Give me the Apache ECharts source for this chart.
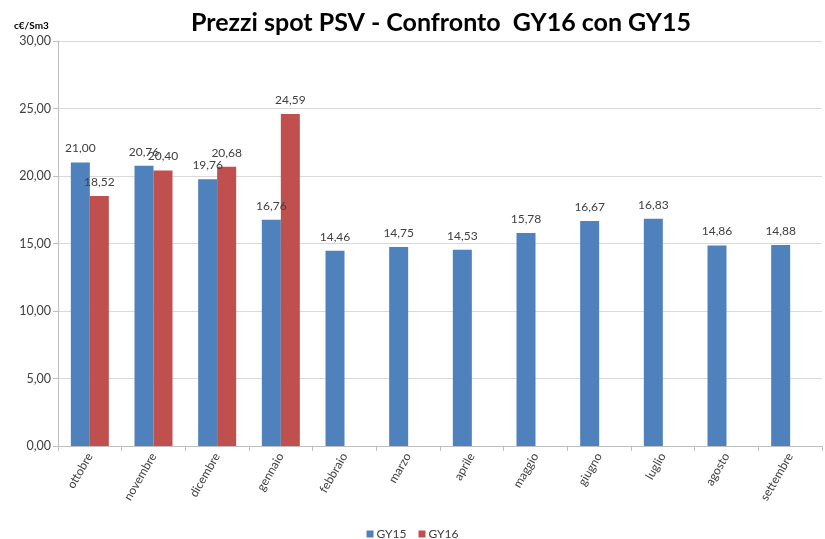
<!DOCTYPE html>
<html><head><meta charset="utf-8">
<script src="https://cdn.jsdelivr.net/npm/echarts@6/dist/echarts.min.js"></script>
<style>html,body{margin:0;padding:0;background:#fff}#c{width:825px;height:539px}</style>
</head><body><div id="c"></div>
<script>
const categories = ['ottobre','novembre','dicembre','gennaio','febbraio','marzo','aprile','maggio','giugno','luglio','agosto','settembre'];
const gy15 = [21.00,20.76,19.76,16.76,14.46,14.75,14.53,15.78,16.67,16.83,14.86,14.88];
const gy16 = [18.52,20.40,20.68,24.59,null,null,null,null,null,null,null,null];
const fmt = v => v.toFixed(2).replace('.', ',');
const chart = echarts.init(document.getElementById('c'));
const F = 'Lato, "Open Sans", sans-serif';
chart.setOption({
  animation:false,
  textStyle:{fontFamily:F},
  title:{text:'Prezzi spot PSV - Confronto  GY16 con GY15',left:436,textAlign:'center',top:5,
    textStyle:{fontFamily:F,fontSize:25,fontWeight:'bold',color:'#000'}},
  graphic:[{type:'text',left:14,top:21,style:{text:'c€/Sm3',font:'bold 10px '+F,fill:'#000'}}],
  legend:{top:523,left:'center',itemWidth:7,itemHeight:7,itemGap:12,icon:'rect',
    textStyle:{fontFamily:F,fontSize:12,color:'#404040',padding:[0,0,0,-2]},data:['GY15','GY16']},
  grid:{left:58,right:3,top:41,bottom:93},
  xAxis:{type:'category',data:categories,
    axisLine:{lineStyle:{color:'#BFBFBF'}},
    axisTick:{show:true,length:5,lineStyle:{color:'#BFBFBF'}},
    axisLabel:{rotate:60,fontSize:12,color:'#404040',margin:8,fontFamily:F}},
  yAxis:{type:'value',min:0,max:30,interval:5,
    axisLine:{show:true,lineStyle:{color:'#BFBFBF'}},
    axisTick:{show:true,length:5,lineStyle:{color:'#BFBFBF'}},
    splitLine:{lineStyle:{color:'#D9D9D9'}},
    axisLabel:{formatter:v=>fmt(v),fontSize:12.5,color:'#404040',margin:7,fontFamily:F}},
  series:[
    {name:'GY15',type:'bar',data:gy15,barWidth:19,barGap:'0%',itemStyle:{color:'#4F81BD'},
      label:{show:true,position:'top',distance:8,formatter:p=>fmt(p.value),fontSize:12,color:'#404040',fontFamily:F}},
    {name:'GY16',type:'bar',data:gy16,barWidth:19,itemStyle:{color:'#C0504D'},
      label:{show:true,position:'top',distance:8,formatter:p=>fmt(p.value),fontSize:12,color:'#404040',fontFamily:F}}
  ]
});
</script></body></html>
